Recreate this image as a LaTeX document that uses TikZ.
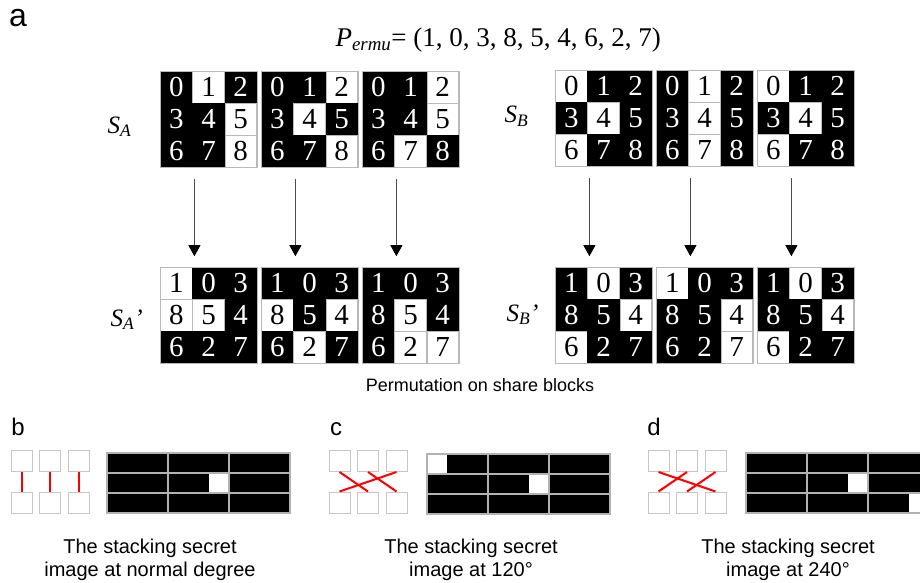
\documentclass[tikz,border=0pt]{standalone}
\usepackage{fontspec}
\setmainfont{Liberation Serif}
\setsansfont{Liberation Sans}
\usetikzlibrary{matrix,arrows.meta}

\tikzset{
  share/.style={matrix of nodes, anchor=north west, inner sep=0pt,
    column sep=0pt, row sep=0pt,
    nodes={fill=black, text=white, draw=black, line width=0.4pt,
      minimum width=31.8pt, minimum height=31.5pt, inner sep=0pt,
      font=\fontsize{29}{29}\selectfont}},
  wt/.style={fill=white, text=black, draw=gray!55},
  rim/.style={draw=gray!55, line width=0.6pt},
  pass/.style={draw=gray!60!black, line width=0.8pt, shorten <=12pt, shorten >=11pt,
    -{Triangle[width=12pt,length=11pt,color=black]}},
  tile/.style={draw=gray!45, line width=1pt, minimum size=21pt, inner sep=0pt},
  pair/.style={red, line width=2pt},
  seam/.style={draw=gray!60, line width=1.2pt},
  slab/.style={font=\fontsize{25}{25}\selectfont, anchor=base west},
  panel/.style={font=\sffamily\fontsize{24}{24}\selectfont, anchor=base},
  note/.style={font=\sffamily\fontsize{20}{23}\selectfont, align=center, anchor=base}
}

% stacked result: black 3x3 blocks, white sub-pixels given as col/row/sub
\newcommand\stackimg[2]{%
  \begin{scope}[shift={#1}]
    \fill[black] (0,0) rectangle (183,60);
    \foreach \c/\r/\s in {#2}
      \fill[white] ({61*\c+20.33*\s},{20*\r}) rectangle +(20.33,20);
    \foreach \k in {1,2} {
      \draw[seam] (61*\k,0) -- (61*\k,60);
      \draw[seam] (0,20*\k) -- (183,20*\k);
    }
    \draw[seam] (0,0) rectangle (183,60);
  \end{scope}}

% three share pairs, linked top/bottom
\newcommand\pairs[3]{%
  \foreach \k in {0,1,2} {
    \node[tile] (#1t\k) at (#2+28.5*\k,461) {};
    \node[tile] (#1b\k) at (#2+28.5*\k,502.5) {};
  }
  \foreach \u/\v in {#3} \draw[pair] (#1t\u.south) -- (#1b\v.north);
}

\begin{document}
\begin{tikzpicture}[x=1pt,y=-1pt]
  \useasboundingbox (0,0) rectangle (920,583);
  \clip (0,0) rectangle (920,583);

  \node[panel, font=\sffamily\fontsize{32}{32}\selectfont] (la) at (18,27) {a};
  \node[anchor=base west, font=\fontsize{27}{27}\selectfont] (perm) at (332,47)
    {\textit{P}\textsubscript{\textit{ermu}}= (1, 0, 3, 8, 5, 4, 6, 2, 7)};

  % original shares
  \matrix (sa1) [share, at={(160,71)}] {
    0 & |[wt]| 1 & 2 \\
    3 & 4 & |[wt]| 5 \\
    6 & 7 & |[wt]| 8 \\
  };
  \matrix (sa2) [share, at={(261,71)}] {
    0 & 1 & |[wt]| 2 \\
    3 & |[wt]| 4 & 5 \\
    6 & 7 & |[wt]| 8 \\
  };
  \matrix (sa3) [share, at={(362,71)}] {
    0 & 1 & |[wt]| 2 \\
    3 & 4 & |[wt]| 5 \\
    6 & |[wt]| 7 & 8 \\
  };
  \matrix (sb1) [share, at={(555,70)}] {
    |[wt]| 0 & 1 & 2 \\
    3 & |[wt]| 4 & 5 \\
    |[wt]| 6 & 7 & 8 \\
  };
  \matrix (sb2) [share, at={(656,70)}] {
    0 & |[wt]| 1 & 2 \\
    3 & |[wt]| 4 & 5 \\
    6 & |[wt]| 7 & 8 \\
  };
  \matrix (sb3) [share, at={(757,70)}] {
    |[wt]| 0 & 1 & 2 \\
    3 & |[wt]| 4 & 5 \\
    |[wt]| 6 & 7 & 8 \\
  };

  % permuted shares
  \matrix (ta1) [share, at={(160,267)}] {
    |[wt]| 1 & 0 & 3 \\
    |[wt]| 8 & |[wt]| 5 & 4 \\
    6 & 2 & 7 \\
  };
  \matrix (ta2) [share, at={(261,267)}] {
    1 & 0 & 3 \\
    |[wt]| 8 & 5 & |[wt]| 4 \\
    6 & |[wt]| 2 & 7 \\
  };
  \matrix (ta3) [share, at={(362,267)}] {
    1 & 0 & 3 \\
    8 & |[wt]| 5 & 4 \\
    6 & |[wt]| 2 & |[wt]| 7 \\
  };
  \matrix (tb1) [share, at={(555,267)}] {
    1 & |[wt]| 0 & 3 \\
    8 & 5 & |[wt]| 4 \\
    |[wt]| 6 & 2 & 7 \\
  };
  \matrix (tb2) [share, at={(656,267)}] {
    |[wt]| 1 & 0 & 3 \\
    8 & 5 & |[wt]| 4 \\
    6 & 2 & |[wt]| 7 \\
  };
  \matrix (tb3) [share, at={(757,267)}] {
    1 & |[wt]| 0 & 3 \\
    8 & 5 & |[wt]| 4 \\
    |[wt]| 6 & 2 & 7 \\
  };

  \foreach \m in {a1,a2,a3,b1,b2,b3} {
    \draw[rim] (s\m.north west) rectangle (s\m.south east);
    \draw[rim] (t\m.north west) rectangle (t\m.south east);
    \draw[pass] ([xshift=2pt]s\m-3-1.south east) -- ([xshift=2pt]t\m-1-1.north east);
  }

  \node[slab] (sA) at (104,133) {\textit{S}\textsubscript{\textit{A}}};
  \node[slab] (sB) at (501,123) {\textit{S}\textsubscript{\textit{B}}};
  \node[slab] (tA) at (107,326) {\textit{S}\textsubscript{\textit{A}}\textit{'}};
  \node[slab] (tB) at (503,321) {\textit{S}\textsubscript{\textit{B}}\textit{'}};

  \node[font=\sffamily\fontsize{18}{18}\selectfont, anchor=base] (perm-cap) at (480,391)
    {Permutation on share blocks};

  % b: normal degree
  \node[panel] (lb) at (18,435) {b};
  \pairs{b}{21.5}{0/0,1/1,2/2}
  \stackimg{(107,453)}{1/1/2}
  \node[note] (nb) at (150,576) {The stacking secret\\image at normal degree};

  % c: 120 degrees
  \node[panel] (lc) at (336,435) {c};
  \pairs{c}{339.5}{0/1,1/2,2/0}
  \stackimg{(427,454)}{0/0/0,1/1/2}
  \node[note] (nc) at (471,576) {The stacking secret\\image at 120°};

  % d: 240 degrees
  \node[panel] (ld) at (654,435) {d};
  \pairs{d}{658.5}{0/2,1/0,2/1}
  \stackimg{(746,453)}{1/1/2,2/2/2}
  \node[note] (nd) at (788,576) {The stacking secret\\image at 240°};
\end{tikzpicture}
\end{document}
